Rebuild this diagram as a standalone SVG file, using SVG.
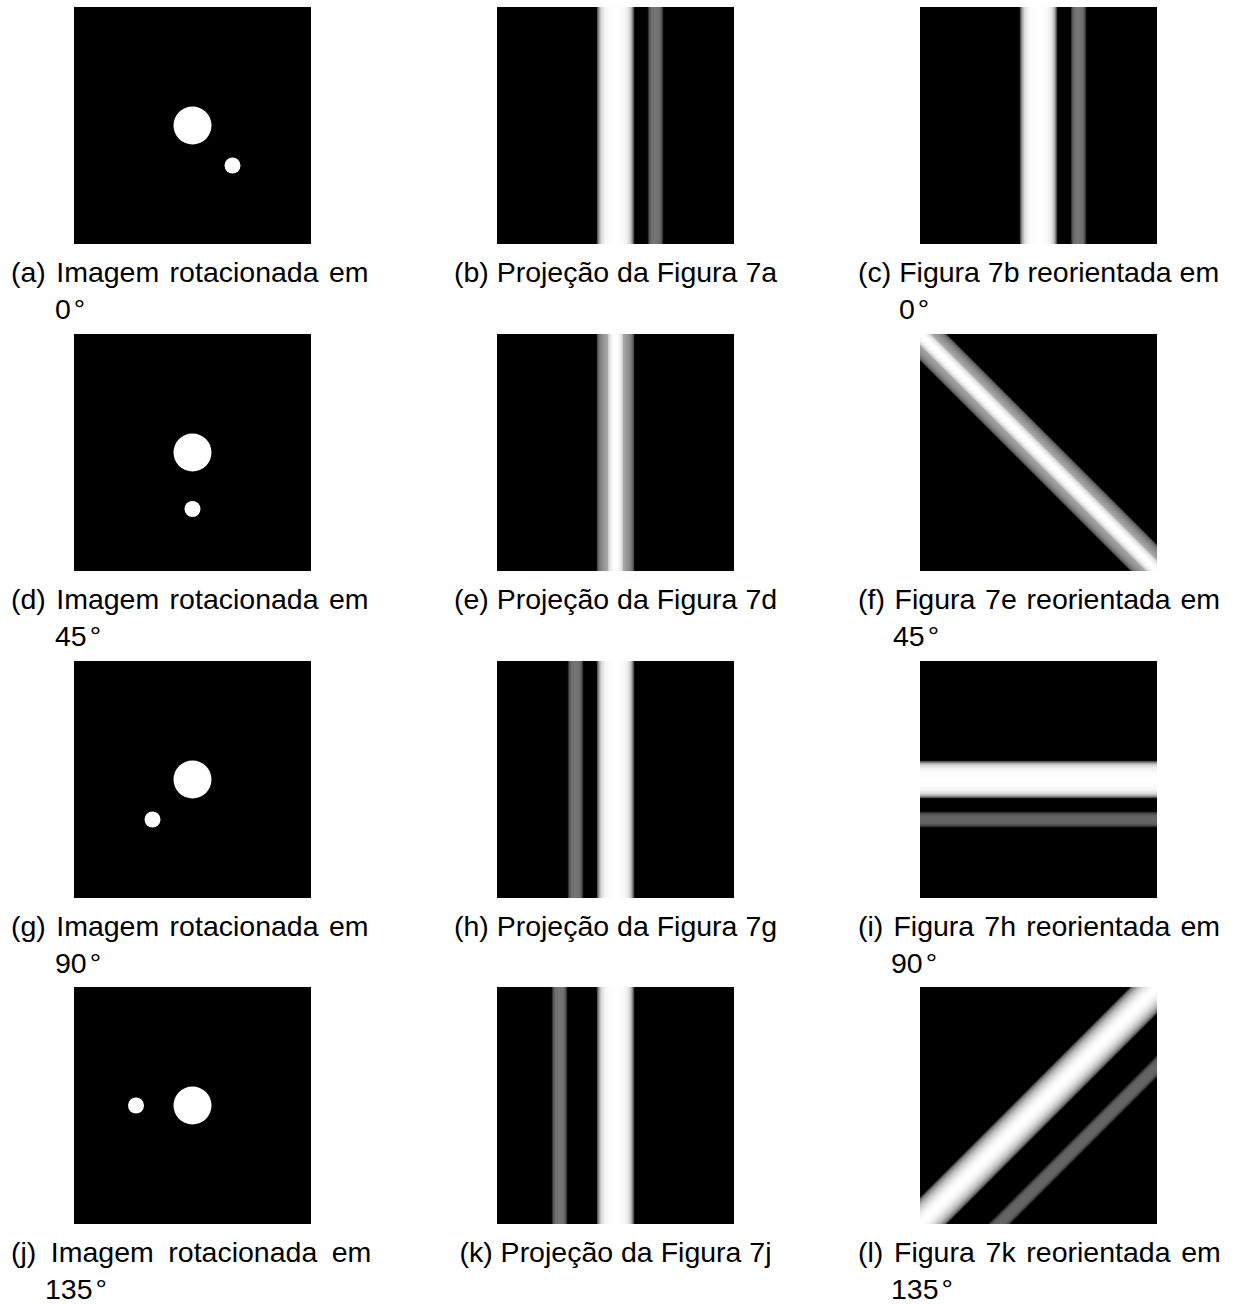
<svg xmlns="http://www.w3.org/2000/svg" width="1235" height="1304" viewBox="0 0 1235 1304">
<style>
.bg{fill:#000}
.dot{fill:#fff}
.cap{font-family:"Liberation Sans",Arial,Helvetica,sans-serif;font-size:28.5px;fill:#000}
.mid{text-anchor:middle}
</style>
<defs>
<linearGradient id="bar" x1="0" y1="0" x2="1" y2="0">
<stop offset="0" stop-color="#fff" stop-opacity="0.1"/>
<stop offset="0.04" stop-color="#fff" stop-opacity="0.45"/>
<stop offset="0.08" stop-color="#fff" stop-opacity="0.68"/>
<stop offset="0.13" stop-color="#fff" stop-opacity="0.85"/>
<stop offset="0.2" stop-color="#fff" stop-opacity="0.94"/>
<stop offset="0.3" stop-color="#fff" stop-opacity="0.985"/>
<stop offset="0.5" stop-color="#fff" stop-opacity="1"/>
<stop offset="0.7" stop-color="#fff" stop-opacity="0.985"/>
<stop offset="0.8" stop-color="#fff" stop-opacity="0.94"/>
<stop offset="0.87" stop-color="#fff" stop-opacity="0.85"/>
<stop offset="0.92" stop-color="#fff" stop-opacity="0.68"/>
<stop offset="0.96" stop-color="#fff" stop-opacity="0.45"/>
<stop offset="1" stop-color="#fff" stop-opacity="0.1"/>
</linearGradient>
<linearGradient id="small" x1="0" y1="0" x2="1" y2="0">
<stop offset="0" stop-color="#fff" stop-opacity="0.15"/>
<stop offset="0.12" stop-color="#fff" stop-opacity="0.7"/>
<stop offset="0.25" stop-color="#fff" stop-opacity="0.95"/>
<stop offset="0.5" stop-color="#fff" stop-opacity="1"/>
<stop offset="0.75" stop-color="#fff" stop-opacity="0.95"/>
<stop offset="0.88" stop-color="#fff" stop-opacity="0.7"/>
<stop offset="1" stop-color="#fff" stop-opacity="0.15"/>
</linearGradient>
<linearGradient id="chord" x1="0" y1="0" x2="1" y2="0">
<stop offset="0" stop-color="#fff" stop-opacity="0"/>
<stop offset="0.01" stop-color="#fff" stop-opacity="0.2"/>
<stop offset="0.03" stop-color="#fff" stop-opacity="0.34"/>
<stop offset="0.06" stop-color="#fff" stop-opacity="0.475"/>
<stop offset="0.1" stop-color="#fff" stop-opacity="0.6"/>
<stop offset="0.15" stop-color="#fff" stop-opacity="0.714"/>
<stop offset="0.2" stop-color="#fff" stop-opacity="0.8"/>
<stop offset="0.3" stop-color="#fff" stop-opacity="0.917"/>
<stop offset="0.4" stop-color="#fff" stop-opacity="0.98"/>
<stop offset="0.5" stop-color="#fff" stop-opacity="1"/>
<stop offset="0.6" stop-color="#fff" stop-opacity="0.98"/>
<stop offset="0.7" stop-color="#fff" stop-opacity="0.917"/>
<stop offset="0.8" stop-color="#fff" stop-opacity="0.8"/>
<stop offset="0.85" stop-color="#fff" stop-opacity="0.714"/>
<stop offset="0.9" stop-color="#fff" stop-opacity="0.6"/>
<stop offset="0.94" stop-color="#fff" stop-opacity="0.475"/>
<stop offset="0.97" stop-color="#fff" stop-opacity="0.34"/>
<stop offset="0.99" stop-color="#fff" stop-opacity="0.2"/>
<stop offset="1" stop-color="#fff" stop-opacity="0"/>
</linearGradient>
<linearGradient id="chord2" x1="0" y1="0" x2="1" y2="0">
<stop offset="0" stop-color="#fff" stop-opacity="0.05"/>
<stop offset="0.0263" stop-color="#fff" stop-opacity="0.3"/>
<stop offset="0.0526" stop-color="#fff" stop-opacity="0.4"/>
<stop offset="0.0789" stop-color="#fff" stop-opacity="0.46"/>
<stop offset="0.1316" stop-color="#fff" stop-opacity="0.53"/>
<stop offset="0.1842" stop-color="#fff" stop-opacity="0.58"/>
<stop offset="0.2368" stop-color="#fff" stop-opacity="0.62"/>
<stop offset="0.2895" stop-color="#fff" stop-opacity="0.66"/>
<stop offset="0.3158" stop-color="#fff" stop-opacity="0.81"/>
<stop offset="0.3421" stop-color="#fff" stop-opacity="0.88"/>
<stop offset="0.3947" stop-color="#fff" stop-opacity="0.95"/>
<stop offset="0.4474" stop-color="#fff" stop-opacity="0.99"/>
<stop offset="0.5" stop-color="#fff" stop-opacity="1"/>
<stop offset="0.5526" stop-color="#fff" stop-opacity="0.99"/>
<stop offset="0.6053" stop-color="#fff" stop-opacity="0.95"/>
<stop offset="0.6579" stop-color="#fff" stop-opacity="0.88"/>
<stop offset="0.6842" stop-color="#fff" stop-opacity="0.81"/>
<stop offset="0.7105" stop-color="#fff" stop-opacity="0.66"/>
<stop offset="0.7632" stop-color="#fff" stop-opacity="0.62"/>
<stop offset="0.8158" stop-color="#fff" stop-opacity="0.58"/>
<stop offset="0.8684" stop-color="#fff" stop-opacity="0.53"/>
<stop offset="0.9211" stop-color="#fff" stop-opacity="0.46"/>
<stop offset="0.9474" stop-color="#fff" stop-opacity="0.4"/>
<stop offset="0.9737" stop-color="#fff" stop-opacity="0.3"/>
<stop offset="1" stop-color="#fff" stop-opacity="0.05"/>
</linearGradient>
<clipPath id="clipF"><rect x="920" y="334" width="237" height="237"/></clipPath>
<clipPath id="clipI"><rect x="920" y="661" width="237" height="237"/></clipPath>
<clipPath id="clipL"><rect x="920" y="987" width="237" height="237"/></clipPath>
</defs>
<rect width="1235" height="1304" fill="#fff"/>

<!-- Row 1 -->
<g id="panel-a">
<rect class="bg" x="74" y="7" width="237" height="237"/>
<circle class="dot" cx="192.5" cy="125.5" r="19"/>
<circle class="dot" cx="232.5" cy="165.5" r="8"/>
<text class="cap" x="11" y="282" word-spacing="2.5">(a) Imagem rotacionada em</text>
<text class="cap" x="55" y="319">0<tspan dx="3">°</tspan></text>
</g>
<g id="panel-b">
<rect class="bg" x="497" y="7" width="237" height="237"/>
<rect x="596.5" y="7" width="38" height="237" fill="url(#bar)"/>
<rect x="647.5" y="7" width="16" height="237" fill="url(#small)" opacity="0.46"/>
<text class="cap mid" x="615.5" y="282">(b) Projeção da Figura 7a</text>
</g>
<g id="panel-c">
<rect class="bg" x="920" y="7" width="237" height="237"/>
<rect x="1019.5" y="7" width="38" height="237" fill="url(#bar)"/>
<rect x="1070.5" y="7" width="16" height="237" fill="url(#small)" opacity="0.46"/>
<text class="cap" x="858" y="282">(c) Figura 7b reorientada em</text>
<text class="cap" x="899" y="319">0<tspan dx="3">°</tspan></text>
</g>

<!-- Row 2 -->
<g id="panel-d">
<rect class="bg" x="74" y="334" width="237" height="237"/>
<circle class="dot" cx="192.5" cy="452.5" r="19"/>
<circle class="dot" cx="192.5" cy="509" r="8"/>
<text class="cap" x="11" y="609" word-spacing="2.5">(d) Imagem rotacionada em</text>
<text class="cap" x="55" y="646">45<tspan dx="3">°</tspan></text>
</g>
<g id="panel-e">
<rect class="bg" x="497" y="334" width="237" height="237"/>
<rect x="596.5" y="334" width="38" height="237" fill="url(#chord2)"/>
<text class="cap mid" x="615.5" y="609">(e) Projeção da Figura 7d</text>
</g>
<g id="panel-f">
<rect class="bg" x="920" y="334" width="237" height="237"/>
<g clip-path="url(#clipF)">
<rect x="1019.5" y="252.5" width="38" height="400" fill="url(#chord2)" transform="rotate(-45 1038.5 452.5)"/>
</g>
<text class="cap" x="858" y="609" word-spacing="1.8">(f) Figura 7e reorientada em</text>
<text class="cap" x="893" y="646">45<tspan dx="3">°</tspan></text>
</g>

<!-- Row 3 -->
<g id="panel-g">
<rect class="bg" x="74" y="661" width="237" height="237"/>
<circle class="dot" cx="192.5" cy="779.5" r="19"/>
<circle class="dot" cx="152.5" cy="819.5" r="8"/>
<text class="cap" x="11" y="936" word-spacing="2.5">(g) Imagem rotacionada em</text>
<text class="cap" x="55" y="973">90<tspan dx="3">°</tspan></text>
</g>
<g id="panel-h">
<rect class="bg" x="497" y="661" width="237" height="237"/>
<rect x="596.5" y="661" width="38" height="237" fill="url(#bar)"/>
<rect x="567.5" y="661" width="16" height="237" fill="url(#small)" opacity="0.46"/>
<text class="cap mid" x="615.5" y="936">(h) Projeção da Figura 7g</text>
</g>
<g id="panel-i">
<rect class="bg" x="920" y="661" width="237" height="237"/>
<g clip-path="url(#clipI)">
<g transform="rotate(-90 1038.5 779.5)">
<rect x="1019.5" y="579.5" width="38" height="400" fill="url(#bar)"/>
<rect x="990.5" y="579.5" width="16" height="400" fill="url(#small)" opacity="0.4"/>
</g>
</g>
<text class="cap" x="858" y="936" word-spacing="2.2">(i) Figura 7h reorientada em</text>
<text class="cap" x="891" y="973">90<tspan dx="3">°</tspan></text>
</g>

<!-- Row 4 -->
<g id="panel-j">
<rect class="bg" x="74" y="987" width="237" height="237"/>
<circle class="dot" cx="192.5" cy="1105.5" r="19"/>
<circle class="dot" cx="136" cy="1105.5" r="8"/>
<text class="cap" x="11" y="1262" word-spacing="6.6">(j) Imagem rotacionada em</text>
<text class="cap" x="45" y="1299">135<tspan dx="3">°</tspan></text>
</g>
<g id="panel-k">
<rect class="bg" x="497" y="987" width="237" height="237"/>
<rect x="596.5" y="987" width="38" height="237" fill="url(#bar)"/>
<rect x="551.5" y="987" width="16" height="237" fill="url(#small)" opacity="0.46"/>
<text class="cap mid" x="615.5" y="1262">(k) Projeção da Figura 7j</text>
</g>
<g id="panel-l">
<rect class="bg" x="920" y="987" width="237" height="237"/>
<g clip-path="url(#clipL)">
<g transform="rotate(-135 1038.5 1105.5)">
<rect x="1019.5" y="905.5" width="38" height="400" fill="url(#chord)"/>
<rect x="974.5" y="905.5" width="16" height="400" fill="url(#small)" opacity="0.4"/>
</g>
</g>
<text class="cap" x="858" y="1262" word-spacing="2.8">(l) Figura 7k reorientada em</text>
<text class="cap" x="891" y="1299">135<tspan dx="3">°</tspan></text>
</g>
</svg>
